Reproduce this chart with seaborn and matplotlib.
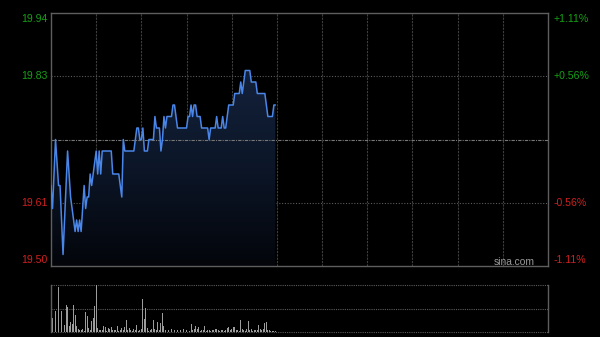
import numpy as np
import pandas as pd
import matplotlib
matplotlib.use("Agg")
import matplotlib.pyplot as plt
from matplotlib.patches import Polygon
from matplotlib.colors import LinearSegmentedColormap
import seaborn as sns

# ---------------- data ----------------
prices = [
    19.64, 19.60, 19.66, 19.72, 19.68, 19.64, 19.64, 19.58, 19.52, 19.58,
    19.64, 19.70, 19.66, 19.62, 19.60, 19.58, 19.56, 19.58, 19.56, 19.58,
    19.56, 19.60, 19.64, 19.60, 19.62, 19.62, 19.66, 19.64, 19.66, 19.68,
    19.70, 19.66, 19.70, 19.66, 19.70, 19.70, 19.70, 19.70, 19.70, 19.70,
    19.70, 19.66, 19.66, 19.66, 19.66, 19.66, 19.64, 19.62, 19.72, 19.70,
    19.70, 19.70, 19.70, 19.70, 19.70, 19.70, 19.72, 19.74, 19.74, 19.72,
    19.72, 19.74, 19.70, 19.70, 19.70, 19.72, 19.72, 19.72, 19.72, 19.76,
    19.74, 19.74, 19.74, 19.70, 19.72, 19.76, 19.74, 19.76, 19.76, 19.76,
    19.76, 19.78, 19.78, 19.76, 19.74, 19.74, 19.74, 19.74, 19.74, 19.74,
    19.74, 19.76, 19.76, 19.78, 19.76, 19.78, 19.78, 19.76, 19.76, 19.76,
    19.74, 19.74, 19.74, 19.74, 19.74, 19.72, 19.74, 19.74, 19.74, 19.74,
    19.76, 19.74, 19.74, 19.74, 19.76, 19.74, 19.74, 19.76, 19.78, 19.78,
    19.78, 19.78, 19.80, 19.80, 19.80, 19.80, 19.82, 19.80, 19.82, 19.84,
    19.84, 19.84, 19.84, 19.82, 19.82, 19.82, 19.82, 19.80, 19.80, 19.80,
    19.80, 19.80, 19.80, 19.78, 19.76, 19.76, 19.76, 19.76, 19.78, 19.78,
]
volumes = [
    142, 42, 47, 62, 52, 135, 27, 62, 47, 20,
    82, 77, 17, 29, 25, 82, 52, 17, 9, 6,
    7, 9, 4, 60, 49, 12, 7, 32, 42, 79,
    142, 12, 7, 5, 7, 19, 14, 4, 12, 10,
    14, 7, 5, 7, 17, 4, 7, 12, 7, 14,
    37, 7, 12, 7, 4, 9, 7, 20, 4, 7,
    9, 99, 39, 72, 12, 4, 7, 9, 37, 9,
    7, 29, 7, 27, 57, 17, 7, 12, 5, 4,
    9, 22, 7, 4, 7, 3, 5, 9, 9, 12,
    7, 17, 4, 25, 7, 9, 17, 9, 14, 4,
    7, 7, 17, 4, 7, 7, 4, 7, 5, 9,
    9, 7, 4, 7, 5, 4, 7, 12, 14, 7,
    9, 14, 14, 7, 7, 4, 35, 9, 7, 4,
    10, 32, 7, 9, 4, 7, 7, 7, 22, 10,
    7, 9, 27, 31, 7, 5, 4, 4, 4, 3,
]
prev_close = 19.72
price_min, price_max = 19.50, 19.94
left_labels = ["19.94", "19.83", "19.61", "19.50"]
right_labels = ["+1.11%", "+0.56%", "-0.56%", "-1.11%"]
total_minutes = 330
grid_minutes = list(range(30, 330, 30))

# ---------------- style ----------------
sns.set_theme(style="dark", rc={"axes.facecolor": "black", "figure.facecolor": "black"})
plt.rcParams["font.family"] = ["Liberation Sans", "DejaVu Sans"]

GREEN = "#15a015"
RED = "#d02020"
SPINE = "#5e5e5e"

fig = plt.figure(figsize=(6, 3.37), dpi=100, facecolor="black")
ax = fig.add_axes([0.085, 0.2107, 0.8283, 0.7507])
axv = fig.add_axes([0.085, 0.0148, 0.8283, 0.1395])

df = pd.DataFrame({"t": np.arange(len(prices)), "price": prices, "vol": volumes})

# ---------------- price panel ----------------
ax.set_facecolor("black")
verts = [(0, price_min)] + list(zip(df["t"], df["price"])) + [(df["t"].iloc[-1], price_min)]
poly = Polygon(verts, closed=True, facecolor="none", edgecolor="none")
ax.add_patch(poly)
grad = np.linspace(0, 1, 256).reshape(-1, 1)
cmap = LinearSegmentedColormap.from_list("g", ["#03050a", "#0c1628", "#13213a"])
im = ax.imshow(grad, extent=[0, df["t"].iloc[-1], price_min, max(prices)],
               origin="lower", cmap=cmap, aspect="auto", zorder=1, interpolation="bilinear")
im.set_clip_path(poly)

for m in grid_minutes:
    ax.axvline(m, color="#3e3e3e", lw=0.8, ls=(0, (2, 1)), zorder=0.5)
for p in [19.83, 19.61]:
    ax.axhline(p, color="#5a5a5a", lw=0.8, ls=(0, (1, 1.5)), zorder=0.5)
ax.axhline(prev_close, color="#777777", lw=0.8, ls=(0, (3, 1, 1, 1)), zorder=2)

sns.lineplot(data=df, x="t", y="price", ax=ax, color="#4a86e8", lw=1.1, zorder=3)

ax.set_xlim(0, total_minutes)
ax.set_ylim(price_min, price_max)
ax.set_xticks([])
ax.set_yticks([])
ax.set_xlabel("")
ax.set_ylabel("")
ax.grid(False)
for s in ax.spines.values():
    s.set_visible(True)
    s.set_color(SPINE)
    s.set_linewidth(1.0)

label_pos = [0.976, 0.75, 0.25, 0.0237]
colors = [GREEN, GREEN, RED, RED]
for yp, ll, rl, c in zip(label_pos, left_labels, right_labels, colors):
    ax.text(-0.0066, yp, ll, transform=ax.transAxes, ha="right", va="center",
            color=c, fontsize=7.6)
    ax.text(1.0107, yp, rl, transform=ax.transAxes, ha="left", va="center",
            color=c, fontsize=7.6)

ax.text(0.9725, 0.0174, "sina.com", transform=ax.transAxes, ha="right", va="center",
        color="#9a9a9a", fontsize=7.4)

# ---------------- volume panel ----------------
axv.set_facecolor("black")
vmax = max(volumes)
for yv in [0, vmax / 2, vmax]:
    axv.axhline(yv, color="#5a5a5a", lw=0.8, ls=(0, (1, 1)), zorder=0.5, clip_on=False)
sns.barplot(data=df, x="t", y="vol", native_scale=True, ax=axv, color="#9c9c9c",
            width=0.6, linewidth=0, errorbar=None, saturation=1, zorder=2)
axv.set_xlim(0, total_minutes)
axv.set_ylim(0, vmax)
axv.set_xticks([])
axv.set_yticks([])
axv.set_xlabel("")
axv.set_ylabel("")
axv.grid(False)
for k, s in axv.spines.items():
    if k in ("left", "right"):
        s.set_visible(True)
        s.set_color(SPINE)
        s.set_linewidth(1.0)
    else:
        s.set_visible(False)

fig.savefig("out.png", dpi=100, facecolor="black")
